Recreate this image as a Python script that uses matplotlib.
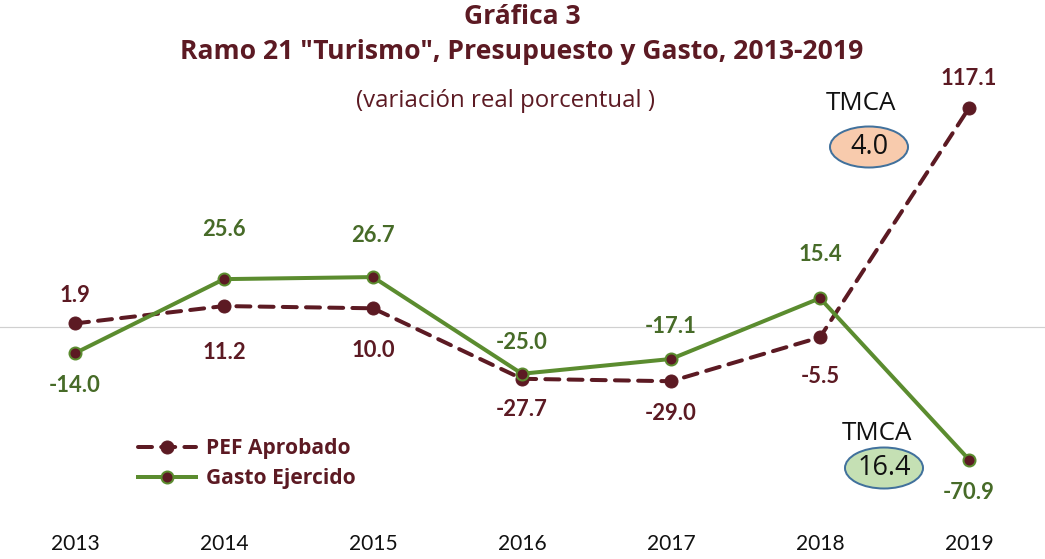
import matplotlib
matplotlib.use("Agg")
import matplotlib.pyplot as plt
from matplotlib.patches import Ellipse

years = [2013, 2014, 2015, 2016, 2017, 2018, 2019]
pef = [1.9, 11.2, 10.0, -27.7, -29.0, -5.5, 117.1]
gasto = [-14.0, 25.6, 26.7, -25.0, -17.1, 15.4, -70.9]
tmca_pef = 4.0
tmca_gasto = 16.4

# label offsets in points (dpi=72 -> points == pixels)
pef_off = [28, -46, -42, -31, -32, -39, 30]
gasto_off = [-32, 50, 42, 31, 32, 44, -33]

MAROON = "#5C1A23"
GREEN = "#5B8C2F"
GREEN_TXT = "#476B28"
FONT = "Lato"
WIDE = "Open Sans"

plt.rcParams["font.family"] = [FONT, "DejaVu Sans"]

DPI = 72
fig = plt.figure(figsize=(1045 / DPI, 559 / DPI), dpi=DPI)
fig.patch.set_facecolor("white")

W, H = 1045, 559
top_px, bot_px = 90, 520
ax = fig.add_axes([0, 1 - bot_px / H, 1, (bot_px - top_px) / H])
x0 = 2013 - 75 / 149
x1 = 2013 + (W - 75) / 149
ax.set_xlim(x0, x1)
scale = 1.87
ax.set_ylim((327 - bot_px) / scale, (327 - top_px) / scale)
for s in ax.spines.values():
    s.set_visible(False)
ax.set_yticks([])
ax.set_xticks(years)
ax.set_xticklabels([str(y) for y in years], fontsize=21, color="#111111")
ax.tick_params(axis="x", length=0, pad=14)

ax.axhline(0, color="#D0D0D0", lw=1.2, zorder=1)

ax.plot(years, pef, color=MAROON, lw=4, ls=(0, (3.5, 2.3)), dash_capstyle="round",
        marker="o", ms=13, mfc=MAROON, mec=MAROON, label="PEF Aprobado", zorder=3)
ax.plot(years, gasto, color=GREEN, lw=4, marker="o", ms=12, mfc=MAROON,
        mec=GREEN, mew=2, label="Gasto Ejercido", zorder=4)

for x, v, o in zip(years, pef, pef_off):
    ax.annotate(f"{v:.1f}", (x, v), xytext=(0, o), textcoords="offset points",
                ha="center", va="center", fontsize=22, fontweight="bold", color=MAROON)
for x, v, o in zip(years, gasto, gasto_off):
    ax.annotate(f"{v:.1f}", (x, v), xytext=(0, o), textcoords="offset points",
                ha="center", va="center", fontsize=22, fontweight="bold", color=GREEN_TXT)

leg = ax.legend(loc="upper left", bbox_to_anchor=(138 / W, 1 - 438 / H),
                bbox_transform=fig.transFigure, frameon=False,
                prop={"family": WIDE, "weight": "bold", "size": 21},
                handlelength=2.75, handletextpad=0.5, labelspacing=0.45,
                borderpad=0, borderaxespad=0)
for t in leg.get_texts():
    t.set_color(MAROON)

# Titles
fig.text(522 / W, 1 - 17 / H, "Gráfica 3", ha="center", va="center",
         fontsize=26.5, fontweight="bold", color=MAROON, family=WIDE)
fig.text(522 / W, 1 - 52 / H, 'Ramo 21 "Turismo", Presupuesto y Gasto, 2013-2019',
         ha="center", va="center", fontsize=26.5, fontweight="bold", color=MAROON, family=WIDE)
fig.text(506 / W, 1 - 101 / H, "(variación real porcentual )", ha="center", va="center",
         fontsize=24, color=MAROON, family=WIDE)

# TMCA boxes
def tmca(tx, ty, cx, cy, val, fill):
    fig.text(tx / W, 1 - ty / H, "TMCA", ha="center", va="center",
             fontsize=26, color="#111111", family=WIDE)
    e = Ellipse((cx / W, 1 - cy / H), 78 / W, 41 / H, transform=fig.transFigure,
                facecolor=fill, edgecolor="#41719C", lw=2)
    fig.patches.append(e)
    fig.text(cx / W, 1 - cy / H, f"{val:.1f}", ha="center", va="center",
             fontsize=27, color="#111111", family=WIDE)

tmca(861, 103, 869, 147, tmca_pef, "#F8CBAD")
tmca(877, 433, 884, 468, tmca_gasto, "#C5E0B4")

fig.savefig("out.png", dpi=DPI)
